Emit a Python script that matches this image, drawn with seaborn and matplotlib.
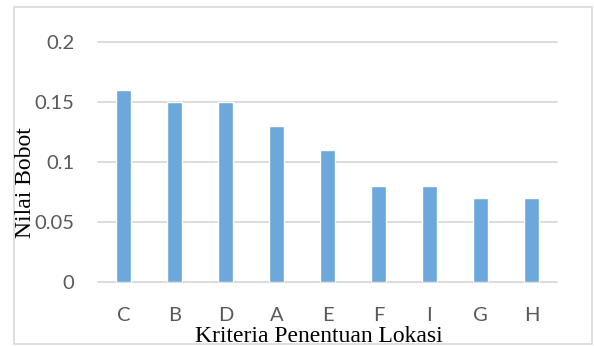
import matplotlib
matplotlib.use("Agg")
import matplotlib.pyplot as plt
from matplotlib.patches import Rectangle
import seaborn as sns
import pandas as pd

kriteria = ["C", "B", "D", "A", "E", "F", "I", "G", "H"]
bobot = [0.16, 0.15, 0.15, 0.13, 0.11, 0.08, 0.08, 0.07, 0.07]
y_ticks = [0, 0.05, 0.1, 0.15, 0.2]
y_tick_labels = ["0", "0.05", "0.1", "0.15", "0.2"]

df = pd.DataFrame({"Kriteria": kriteria, "Bobot": bobot})

sns.set_theme(style="white")
plt.rcParams["font.family"] = ["Lato", "DejaVu Sans"]

W, H = 594, 346
fig = plt.figure(figsize=(W / 100, H / 100), dpi=100)
fig.patch.set_facecolor("white")

# chart frame
fig.patches.append(Rectangle((14 / W, 1 - 344 / H), (592 - 14) / W, (344 - 7) / H,
                             transform=fig.transFigure, fill=False,
                             edgecolor="#D9D9D9", linewidth=1.2))

ax = fig.add_axes([98 / W, 1 - 282 / H, (557 - 98) / W, (282 - 42) / H])
sns.barplot(data=df, x="Kriteria", y="Bobot", order=kriteria, color="#6CA8DB",
            width=0.31, saturation=1, ax=ax)

ax.set_ylim(0, 0.2)
ax.set_xlim(-0.5, len(kriteria) - 0.5)
ax.set_yticks(y_ticks)
ax.set_yticklabels(y_tick_labels)
for v in y_ticks:
    ax.axhline(v, color="#D9D9D9", linewidth=1.3, zorder=0, clip_on=False)
ax.set_axisbelow(True)

for s in ax.spines.values():
    s.set_visible(False)
ax.tick_params(axis="both", length=0, labelsize=14.5, labelcolor="#595959")
ax.tick_params(axis="y", pad=17)
ax.tick_params(axis="x", pad=18)

ax.set_xlabel("")
ax.set_ylabel("")
fig.text(319 / W, 1 - 342 / H, "Kriteria Penentuan Lokasi", ha="center", va="baseline",
         family=["Liberation Serif", "DejaVu Serif"], fontsize=17, color="black")
fig.text(26 / W, 1 - 183 / H, "Nilai Bobot", ha="center", va="center", rotation=90,
         family=["Liberation Serif", "DejaVu Serif"], fontsize=17, color="black")

fig.savefig("out.png", dpi=100, facecolor="white")
